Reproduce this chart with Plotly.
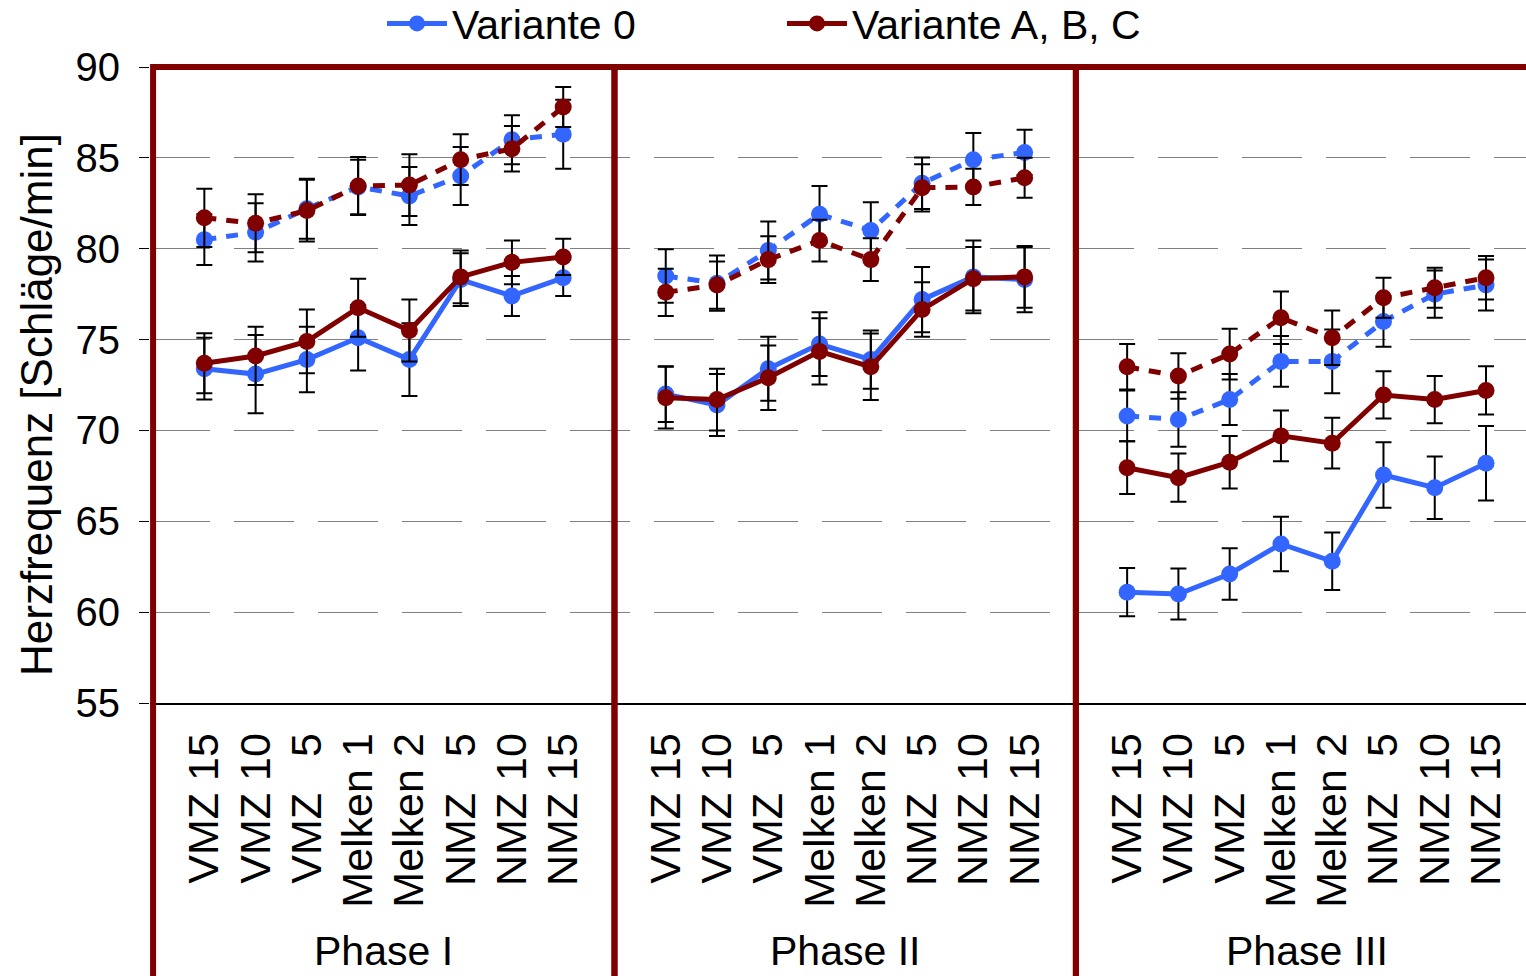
import plotly.graph_objects as go

# ---------------- data ----------------
categories = ["VMZ 15", "VMZ 10", "VMZ\u00a0\u00a0\u00a05", "Melken 1", "Melken 2",
              "NMZ\u00a0\u00a0\u00a05", "NMZ 10", "NMZ 15"]
phases = ["Phase I", "Phase II", "Phase III"]

# Variante 0 – upper (dotted) series, one list per phase
v0_dot = [
    [80.5, 80.9, 82.2, 83.4, 82.9, 84.0, 86.0, 86.3],
    [78.5, 78.1, 79.9, 81.9, 81.0, 83.6, 84.9, 85.3],
    [70.8, 70.6, 71.7, 73.8, 73.8, 76.0, 77.5, 78.0],
]
v0_dot_err = [
    [1.4, 1.6, 1.65, 1.5, 1.6, 1.6, 1.35, 1.9],
    [1.47, 1.52, 1.6, 1.55, 1.56, 1.42, 1.47, 1.25],
    [1.4, 1.5, 1.4, 1.4, 1.75, 1.4, 1.3, 1.4],
]
# Variante 0 – lower (solid) series
v0_sol = [
    [73.4, 73.1, 73.9, 75.1, 73.9, 78.3, 77.4, 78.4],
    [72.0, 71.4, 73.4, 74.75, 73.9, 77.2, 78.45, 78.3],
    [61.1, 61.0, 62.1, 63.75, 62.8, 67.55, 66.85, 68.2],
]
v0_sol_err = [
    [1.7, 2.15, 1.8, 1.8, 2.0, 1.45, 1.1, 1.0],
    [1.53, 1.7, 1.76, 1.75, 1.6, 1.8, 2.0, 1.8],
    [1.33, 1.4, 1.42, 1.5, 1.58, 1.8, 1.72, 2.05],
]
# Variante A, B, C – upper (dotted) series
abc_dot = [
    [81.7, 81.4, 82.1, 83.45, 83.5, 84.9, 85.5, 87.8],
    [77.6, 78.0, 79.4, 80.45, 79.4, 83.35, 83.4, 83.9],
    [73.5, 73.0, 74.2, 76.2, 75.1, 77.3, 77.85, 78.4],
]
abc_dot_err = [
    [1.6, 1.6, 1.7, 1.6, 1.7, 1.4, 1.25, 1.1],
    [1.3, 1.3, 1.28, 1.15, 1.18, 1.3, 1.0, 1.1],
    [1.25, 1.25, 1.4, 1.45, 1.5, 1.1, 1.1, 1.2],
]
# Variante A, B, C – lower (solid) series
abc_sol = [
    [73.7, 74.1, 74.9, 76.75, 75.5, 78.45, 79.25, 79.55],
    [71.8, 71.7, 72.9, 74.35, 73.5, 76.65, 78.35, 78.45],
    [67.95, 67.4, 68.25, 69.7, 69.3, 71.95, 71.7, 72.2],
]
abc_sol_err = [
    [1.65, 1.6, 1.75, 1.6, 1.7, 1.45, 1.2, 1.0],
    [1.7, 1.7, 1.77, 1.82, 1.83, 1.5, 1.75, 1.7],
    [1.45, 1.33, 1.45, 1.4, 1.4, 1.3, 1.3, 1.33],
]

y_ticks = [55, 60, 65, 70, 75, 80, 85, 90]
y_title = "Herzfrequenz [Schläge/min]"

# ---------------- style ----------------
BLUE = "#3366FF"
RED = "#800000"
FONT = "Liberation Sans, Arial, sans-serif"
FS = 41
SLOT = len(categories) + 1          # one empty slot between phases
X_MIN, X_MAX = -1.06, 25.78

def xpos(p):
    return [p * SLOT + i for i in range(len(categories))]

fig = go.Figure()

series = [
    ("Variante 0", v0_dot, v0_dot_err, BLUE, "12px,10px", False),
    ("Variante 0", v0_sol, v0_sol_err, BLUE, "solid", True),
    ("Variante A, B, C", abc_dot, abc_dot_err, RED, "12px,10px", False),
    ("Variante A, B, C", abc_sol, abc_sol_err, RED, "solid", True),
]

for name, vals, errs, color, dash, legend in series:
    for p in range(len(phases)):
        fig.add_trace(go.Scatter(
            x=xpos(p), y=vals[p],
            mode="lines+markers",
            name=name,
            legendgroup=name,
            showlegend=(legend and p == 0),
            line=dict(color=color, width=5, dash=dash),
            marker=dict(color=color, size=17),
            error_y=dict(type="data", array=errs[p], visible=True,
                         color="black", thickness=2, width=8),
            hoverinfo="skip",
        ))

tickvals = [v for p in range(len(phases)) for v in xpos(p)]
ticktext = categories * len(phases)

def xpaper(v):
    return (v - X_MIN) / (X_MAX - X_MIN)

# phase boxes (dark red frames)
for p in range(len(phases)):
    fig.add_shape(type="rect", xref="paper", yref="paper",
                  x0=xpaper(p * SLOT - 1), x1=xpaper((p + 1) * SLOT - 1),
                  y0=1, y1=-0.6,
                  line=dict(color=RED, width=6), fillcolor="rgba(0,0,0,0)",
                  layer="above")
    fig.add_annotation(x=p * SLOT + (len(categories) - 1) / 2, xref="x",
                       y=-0.39, yref="paper", yanchor="middle",
                       text=phases[p], showarrow=False,
                       font=dict(family=FONT, size=FS, color="black"))

# y-axis title (placed as rotated text)
fig.add_annotation(x=-0.0821, xref="paper", y=0.4686, yref="paper",
                   xanchor="center", yanchor="middle", textangle=-90,
                   text=y_title, showarrow=False,
                   font=dict(family=FONT, size=44, color="black"))

fig.update_layout(
    width=1526, height=976,
    margin=dict(l=150, r=0, t=67, b=273, autoexpand=False),
    paper_bgcolor="white", plot_bgcolor="white",
    font=dict(family=FONT, size=FS, color="black"),
    showlegend=True,
    legend=dict(orientation="h", x=0.1686, xanchor="left", y=1.068, yanchor="middle",
                font=dict(family=FONT, size=FS, color="black"),
                entrywidth=325, itemwidth=60, bgcolor="rgba(0,0,0,0)"),
    xaxis=dict(range=[X_MIN, X_MAX], tickmode="array", tickvals=tickvals,
               ticktext=ticktext, tickangle=-90, ticks="", showgrid=False,
               zeroline=False, showline=True, linecolor="black", linewidth=2,
               ticklabelstandoff=11, automargin=False,
               tickfont=dict(family=FONT, size=43)),
    yaxis=dict(range=[55, 90], tickmode="array", tickvals=y_ticks,
               showgrid=True, gridcolor="#808080", gridwidth=1, griddash="60px,24px",
               zeroline=False, showline=False, ticks="outside", ticklen=10,
               tickcolor="black", tickwidth=1, ticklabelstandoff=11, automargin=False,
               tickfont=dict(family=FONT, size=40)),
)

fig.write_html("out.html")
